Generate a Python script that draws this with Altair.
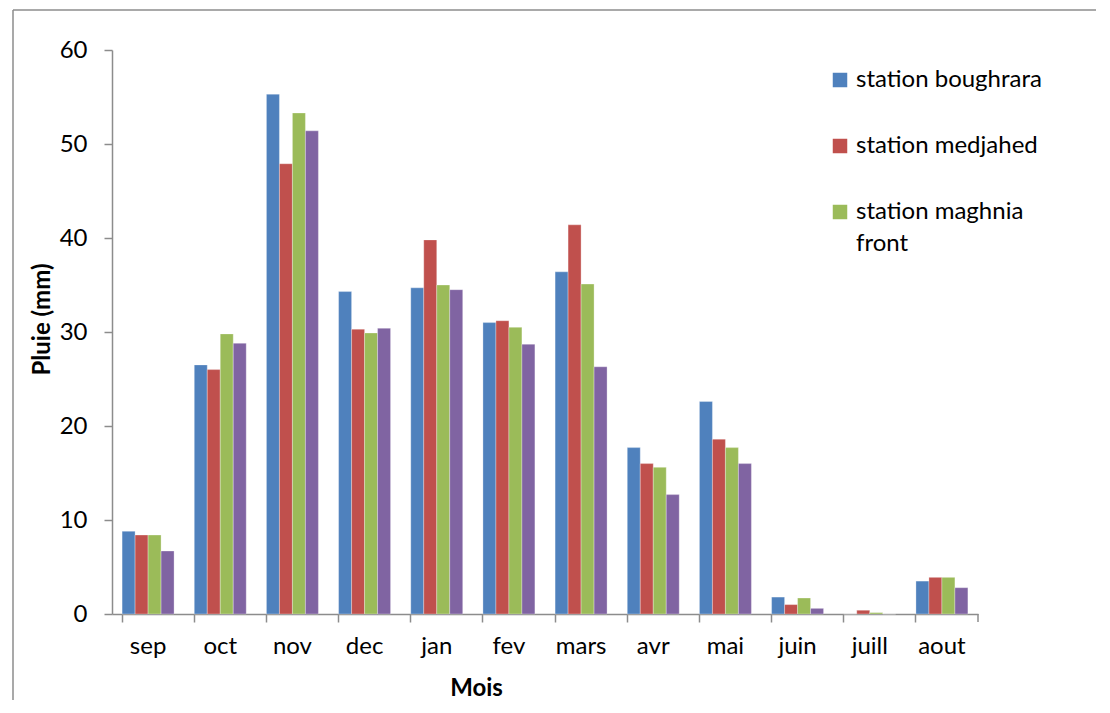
import altair as alt
import pandas as pd

months = ["sep", "oct", "nov", "dec", "jan", "fev", "mars", "avr", "mai", "juin", "juill", "aout"]
stations = ["station boughrara", "station medjahed", "station maghnia front", "station 4"]
colors = ["#4F81BD", "#C0504D", "#9BBB59", "#8064A2"]

boughrara = [8.8, 26.5, 55.3, 34.3, 34.7, 31.0, 36.4, 17.7, 22.6, 1.8, 0.0, 3.5]
medjahed = [8.4, 26.0, 47.9, 30.3, 39.8, 31.2, 41.4, 16.0, 18.6, 1.0, 0.4, 3.9]
maghnia = [8.4, 29.8, 53.3, 29.9, 35.0, 30.5, 35.1, 15.6, 17.7, 1.7, 0.15, 3.9]
station4 = [6.7, 28.8, 51.4, 30.4, 34.5, 28.7, 26.3, 12.7, 16.0, 0.6, 0.0, 2.8]

series = [boughrara, medjahed, maghnia, station4]
rows = []
for s, vals in zip(stations, series):
    for m, v in zip(months, vals):
        rows.append({"Mois": m, "station": s, "pluie": v})
df = pd.DataFrame(rows)

FONT = "Lato"
W, H = 866, 564
FS = 24

bars = alt.Chart(df).mark_bar(stroke="white", strokeWidth=0.5, strokeOpacity=0.6).encode(
    x=alt.X("Mois:N", sort=months,
            scale=alt.Scale(paddingInner=0.28, paddingOuter=0.14),
            axis=alt.Axis(title="Mois", labelAngle=0, bandPosition=0,
                          domainColor="#8c8c8c", domainWidth=1.5,
                          tickColor="#8c8c8c", tickWidth=1.5, tickSize=8,
                          labelPadding=12, labelFontSize=FS, labelColor="black",
                          titleFontSize=FS, titleFontWeight="bold", titleColor="black",
                          titleX=364, titleY=74, titleBaseline="middle", titleAlign="center")),
    xOffset=alt.XOffset("station:N", sort=stations),
    y=alt.Y("pluie:Q", scale=alt.Scale(domain=[0, 60], nice=False),
            axis=alt.Axis(title="Pluie (mm)", values=[0, 10, 20, 30, 40, 50, 60], grid=False,
                          domainColor="#8c8c8c", domainWidth=1.5,
                          tickColor="#8c8c8c", tickWidth=1.5, tickSize=8,
                          labelPadding=17, labelFontSize=FS, labelColor="black",
                          titleFontSize=FS, titleFontWeight="bold", titleColor="black",
                          titleX=-70, titleY=269, titleBaseline="middle", titleAlign="center")),
    color=alt.Color("station:N", sort=stations,
                    scale=alt.Scale(domain=stations, range=colors),
                    legend=alt.Legend(title=None, orient="none", legendX=716, legendY=18,
                                      values=stations[:3], symbolType="square", symbolSize=210,
                                      symbolStrokeWidth=0, labelFontSize=FS, labelColor="black",
                                      rowPadding=42, padding=0, labelOffset=4,
                                      labelLimit=300,
                                      labelExpr="datum.label == 'station maghnia front' ? ['station maghnia', 'front'] : datum.label")),
)

frame_df = pd.DataFrame({"a": [0]})
frame_left = alt.Chart(frame_df).mark_rule(color="#8c8c8c", strokeWidth=1.5).encode(
    x=alt.value(-99), y=alt.value(-40), y2=alt.value(720))
frame_top = alt.Chart(frame_df).mark_rule(color="#8c8c8c", strokeWidth=1.5).encode(
    x=alt.value(-99), x2=alt.value(1100), y=alt.value(-40))
end_tick = alt.Chart(frame_df).mark_rule(color="#8c8c8c", strokeWidth=1.5).encode(
    x=alt.value(W), y=alt.value(H), y2=alt.value(H + 8))

chart = alt.layer(bars, frame_left, frame_top, end_tick).properties(
    width=W, height=H,
    autosize=alt.AutoSizeParams(type="none"),
    padding={"left": 104, "top": 42, "right": 118, "bottom": 86},
).configure(
    font=FONT,
    style={"guide-label": {"lineHeight": 32}},
    view=alt.ViewConfig(strokeOpacity=0, strokeWidth=0),
)

chart.save("out.html", embed_options={"renderer": "svg", "actions": False})
